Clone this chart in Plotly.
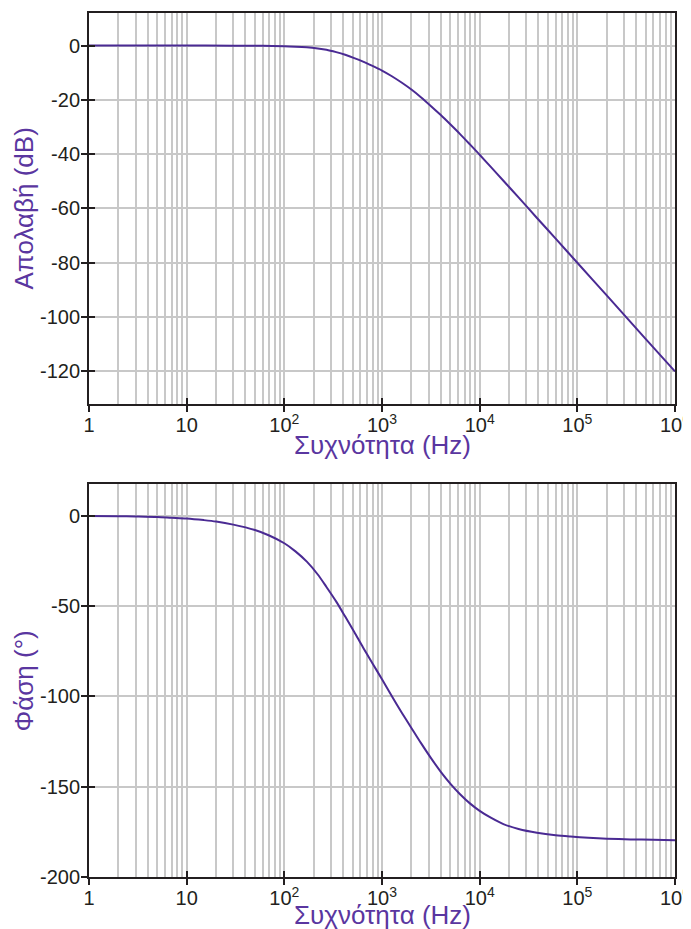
import plotly.graph_objects as go
from plotly.subplots import make_subplots

# ---- data ----
freq_mag = [1, 10, 30, 60, 100, 130, 170, 220, 270, 340, 420, 520, 640, 800, 1000, 1250, 1600,
            2000, 2500, 3200, 4000, 5000, 6300, 8000, 10000, 13000, 17500, 25000, 38600, 60000,
            100000, 200000, 500000, 1000000]
gain_db = [0, 0, -0.02, -0.08, -0.25, -0.4, -0.65, -1.05, -1.5, -2.4, -3.4, -4.6, -5.9, -7.5, -9.2,
           -11.2, -13.7, -16.2, -19.0, -22.4, -25.6, -29.0, -32.6, -36.5, -40.2, -44.7, -49.8,
           -55.9, -63.5, -71.1, -80.0, -92.0, -108.0, -120.0]

freq_ph = [1, 2, 3, 5, 7, 10, 15, 20, 30, 50, 70, 100, 130, 170, 220, 270, 340, 420, 520, 640,
           800, 1000, 1250, 1600, 2000, 2500, 3200, 4000, 5000, 6300, 8000, 10000, 13000, 17500,
           25000, 38600, 60000, 85000, 130000, 200000, 350000, 600000, 1000000]
phase_deg = [-0.2, -0.3, -0.5, -0.8, -1.2, -1.6, -2.5, -3.3, -5.0, -8.0, -11.0, -15.3, -19.8,
             -25.5, -32.6, -39.5, -47.6, -55.9, -64.4, -73.0, -81.8, -90.6, -99.6, -109.2, -117.5,
             -125.8, -134.5, -141.8, -148.3, -154.2, -159.4, -163.4, -167.2, -170.7, -173.4,
             -175.5, -176.9, -177.6, -178.3, -178.8, -179.2, -179.4, -179.6]

x_tickvals = [1, 10, 100, 1000, 10000, 100000, 1000000]
x_ticktext = ["1", "10", "10<sup>2</sup>", "10<sup>3</sup>", "10<sup>4</sup>", "10<sup>5</sup>", "10<sup>6</sup>"]
x_minor = [m * d for d in [1, 10, 100, 1000, 10000, 100000] for m in range(2, 10)]

y_top_vals = [0, -20, -40, -60, -80, -100, -120]
y_top_text = ["0", "-20", "-40", "-60", "-80", "-100", "-120"]
y_bot_vals = [0, -50, -100, -150, -200]
y_bot_text = ["0", "-50", "-100", "-150", "-200"]

x_title = "Συχνότητα (Hz)"
y_title_top = "Απολαβή (dB)"
y_title_bottom = "Φάση (°)"

LINE = "#4a2a93"
TITLE_C = "#5a36a0"
AX = "#231f20"
GRID = "#c8c8c8"
FONT = "Liberation Sans, Arial, sans-serif"

fig = make_subplots(rows=2, cols=1, vertical_spacing=0.0)

fig.add_trace(go.Scatter(x=freq_mag, y=gain_db, mode="lines", line_shape="spline",
                         line=dict(color=LINE, width=2, smoothing=0.8), showlegend=False,
                         hoverinfo="x+y"), row=1, col=1)
fig.add_trace(go.Scatter(x=freq_ph, y=phase_deg, mode="lines", line_shape="spline",
                         line=dict(color=LINE, width=2, smoothing=0.8), showlegend=False,
                         hoverinfo="x+y"), row=2, col=1)
# invisible companions so the inner half of the crossing tick marks is drawn
fig.add_trace(go.Scatter(x=freq_mag, y=gain_db, xaxis="x3", yaxis="y3", mode="lines",
                         line=dict(width=0), opacity=0, showlegend=False, hoverinfo="skip"))
fig.add_trace(go.Scatter(x=freq_ph, y=phase_deg, xaxis="x4", yaxis="y4", mode="lines",
                         line=dict(width=0), opacity=0, showlegend=False, hoverinfo="skip"))

xcommon = dict(type="log", range=[0, 6], tickmode="array", tickvals=x_tickvals, ticktext=x_ticktext,
               showgrid=True, gridcolor=GRID, gridwidth=1.5, automargin=False,
               minor=dict(tickmode="array", tickvals=x_minor, showgrid=True, gridcolor=GRID,
                          gridwidth=1.5, ticks=""),
               showline=True, linecolor=AX, linewidth=2, mirror=True,
               ticks="outside", ticklen=6, tickwidth=2, tickcolor=AX, ticklabelstandoff=-4,
               tickfont=dict(family=FONT, size=20, color=AX), zeroline=False)
fig.update_xaxes(**xcommon, row=1, col=1)
fig.update_xaxes(**xcommon, row=2, col=1)

ycommon = dict(showgrid=True, gridcolor=GRID, gridwidth=1.5, automargin=False,
               showline=True, linecolor=AX, linewidth=2, mirror=True,
               ticks="outside", ticklen=6, tickwidth=2, tickcolor=AX, ticklabelstandoff=-3,
               tickfont=dict(family=FONT, size=20, color=AX), zeroline=False)
fig.update_yaxes(**ycommon, row=1, col=1)
fig.update_yaxes(**ycommon, row=2, col=1)
fig.update_yaxes(range=[-132, 12], tickmode="array", tickvals=y_top_vals, ticktext=y_top_text,
                 domain=[0.5475, 1.0], row=1, col=1)
fig.update_yaxes(range=[-200, 17.5], tickmode="array", tickvals=y_bot_vals, ticktext=y_bot_text,
                 domain=[0.0, 0.4549], row=2, col=1)

inner = dict(ticks="inside", ticklen=6, tickwidth=2, tickcolor=AX, showticklabels=False,
             showgrid=False, showline=False, zeroline=False, automargin=False, tickmode="array")
fig.update_layout(
    xaxis3=dict(overlaying="x", matches="x", anchor="y", type="log", side="bottom",
                tickvals=x_tickvals, **inner),
    yaxis3=dict(overlaying="y", matches="y", anchor="x", side="left", tickvals=y_top_vals, **inner),
    xaxis4=dict(overlaying="x2", matches="x2", anchor="y2", type="log", side="bottom",
                tickvals=x_tickvals, **inner),
    yaxis4=dict(overlaying="y2", matches="y2", anchor="x2", side="left", tickvals=y_bot_vals, **inner),
)

ann_font = dict(family=FONT, size=26, color=TITLE_C)
fig.add_annotation(text=x_title, xref="paper", yref="paper", x=0.5, y=0.5,
                   showarrow=False, font=ann_font, xanchor="center", yanchor="middle")
fig.add_annotation(text=x_title, xref="paper", yref="paper", x=0.5, y=-0.0445,
                   showarrow=False, font=ann_font, xanchor="center", yanchor="middle")
fig.add_annotation(text=y_title_top, xref="paper", yref="paper", x=-0.111, y=0.7737,
                   showarrow=False, font=ann_font, textangle=-90, xanchor="center", yanchor="middle")
fig.add_annotation(text=y_title_bottom, xref="paper", yref="paper", x=-0.111, y=0.2274,
                   showarrow=False, font=ann_font, textangle=-90, xanchor="center", yanchor="middle")

# the page body has an 8px margin, so the figure is offset by 8px inside the 691x929 window
fig.update_layout(width=683, height=921, margin=dict(l=81, r=16, t=5, b=52),
                  paper_bgcolor="white", plot_bgcolor="white", font=dict(family=FONT))

fig.write_html("out.html")
